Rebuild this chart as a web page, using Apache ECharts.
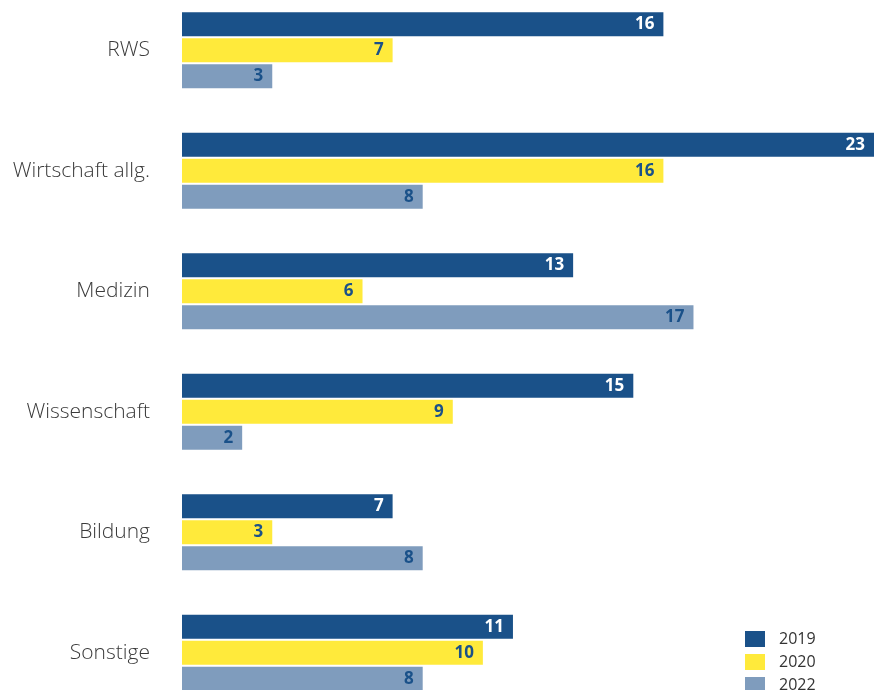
<!DOCTYPE html>
<html>
<head>
<meta charset="utf-8">
<script src="https://cdn.jsdelivr.net/npm/echarts@6/dist/echarts.min.js"></script>
<style>html,body{margin:0;padding:0;background:#fff}#c{width:884px;height:690px}</style>
</head>
<body>
<div id="c"></div>
<script>
var categories = ['RWS', 'Wirtschaft allg.', 'Medizin', 'Wissenschaft', 'Bildung', 'Sonstige'];
var seriesNames = ['2019', '2020', '2022'];
var values2019 = [16, 23, 13, 15, 7, 11];
var values2020 = [7, 16, 6, 9, 3, 10];
var values2022 = [3, 8, 17, 2, 8, 8];

var colors = ['#1a5189', '#ffea3b', '#7f9cbd'];
var labelColors = ['#ffffff', '#1a5189', '#1a5189'];
var allValues = [values2019, values2020, values2022];

var chart = echarts.init(document.getElementById('c'));
chart.setOption({
  animation: false,
  grid: { left: 182, right: 10, top: -10, height: 723, containLabel: false, outerBoundsMode: 'none' },
  xAxis: {
    type: 'value', min: 0, max: 23,
    show: false
  },
  yAxis: {
    type: 'category', data: categories, inverse: true,
    axisLine: { show: false }, axisTick: { show: false },
    axisLabel: {
      margin: 32, fontSize: 21, color: '#3a3a3a',
      fontFamily: 'Open Sans', fontWeight: 300
    }
  },
  legend: {
    orient: 'vertical', left: 745, top: 631, height: 80, padding: 0,
    itemWidth: 20, itemHeight: 16, itemGap: 7,
    icon: 'rect',
    textStyle: { fontSize: 16, color: '#333', fontFamily: 'Open Sans', padding: [0, 0, 0, 9] },
    data: seriesNames
  },
  series: seriesNames.map(function (n, i) {
    return {
      name: n, type: 'bar', data: allValues[i],
      barWidth: 24, barGap: '8.33%',
      itemStyle: { color: colors[i] },
      label: {
        show: true, position: 'insideRight', distance: 9,
        color: labelColors[i], fontSize: 17, fontWeight: 'bold',
        fontFamily: 'Open Sans'
      }
    };
  })
});
</script>
</body>
</html>
